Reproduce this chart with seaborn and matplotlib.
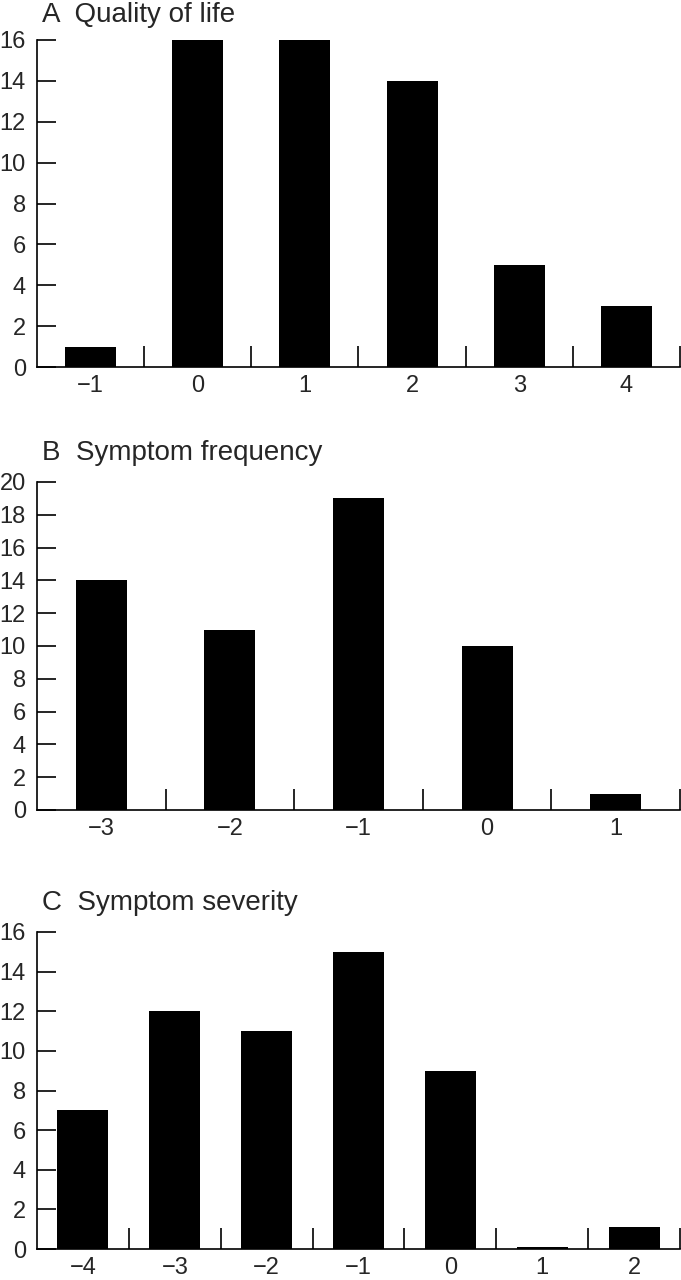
import matplotlib
matplotlib.use("Agg")
import matplotlib.pyplot as plt
import seaborn as sns
import numpy as np

sns.set_style("white")
plt.rcParams['font.family'] = ['Liberation Sans', 'DejaVu Sans']

# Data
a_cats = ["−1", "0", "1", "2", "3", "4"]
a_vals = [1, 16, 16, 14, 5, 3]
b_cats = ["−3", "−2", "−1", "0", "1"]
b_vals = [14, 11, 19, 10, 1]
c_cats = ["−4", "−3", "−2", "−1", "0", "1", "2"]
c_vals = [7, 12, 11, 15, 9, 0.1, 1.1]

titles = ["A  Quality of life", "B  Symptom frequency", "C  Symptom severity"]
ymax = [16, 20, 16]

W, H = 681, 1280
fig = plt.figure(figsize=(W / 100, H / 100), dpi=100)

# axes boxes in pixels: (left, top, right, bottom)
boxes = [(37, 40, 680, 367), (37, 482, 680, 810), (37, 932, 680, 1249)]
title_off = [25, 29, 29]
bar_px = 51

panels = [(a_cats, a_vals), (b_cats, b_vals), (c_cats, c_vals)]
for (cats, vals), title, ym, (l, t, r, b), toff in zip(panels, titles, ymax, boxes, title_off):
    ax = fig.add_axes([l / W, 1 - b / H, (r - l) / W, (b - t) / H])
    n = len(cats)
    slot = (r - l) / n
    sns.barplot(x=cats, y=vals, order=cats, color="black", width=bar_px / slot,
                saturation=1, ax=ax, edgecolor="black", linewidth=0)
    ax.set_xlim(-0.5, n - 0.5)
    ax.set_ylim(0, ym)
    ax.set_yticks(np.arange(0, ym + 1, 2))
    ax.set_xticks(range(n))
    ax.set_xticklabels(cats)
    ax.set_xticks(np.arange(0.5, n, 1), minor=True)
    ax.tick_params(axis="x", which="major", length=0, labelsize=17, pad=6)
    ax.tick_params(axis="x", which="minor", direction="in", length=15, width=1.2,
                   color="black", bottom=True)
    ax.tick_params(axis="y", direction="in", length=14, width=1.2, color="black",
                   labelsize=17, pad=8, left=True)
    for s in ["top", "right"]:
        ax.spines[s].set_visible(False)
    for s in ["left", "bottom"]:
        ax.spines[s].set_color("black")
        ax.spines[s].set_linewidth(1.2)
    ax.set_xlabel("")
    ax.set_ylabel("")
    ax.text(5 / (r - l), 1 + toff / (b - t), title, transform=ax.transAxes,
            fontsize=20, ha="left", va="center")

fig.savefig("out.png", dpi=100)
